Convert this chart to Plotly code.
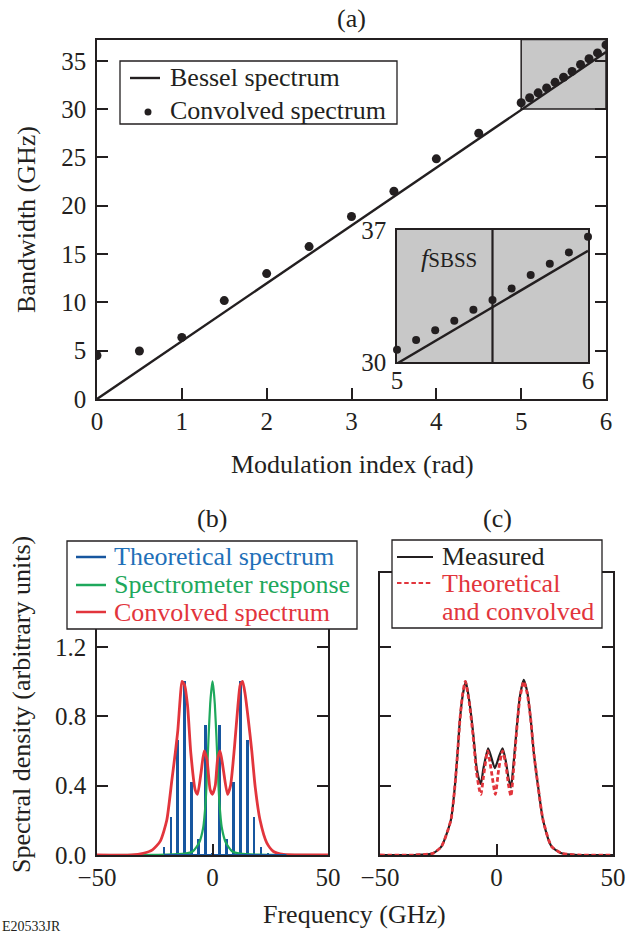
import plotly.graph_objects as go

# ---------------- data ----------------
# Panel (a)
bessel_index = [0.0, 6.0]
bessel_bw = [0.0, 35.9]
mod_index = [0.0, 0.5, 1.0, 1.5, 2.0, 2.5, 3.0, 3.5, 4.0, 4.5,
             5.0, 5.1, 5.2, 5.3, 5.4, 5.5, 5.6, 5.7, 5.8, 5.9, 6.0]
conv_bw = [4.5, 4.97, 6.37, 10.18, 12.98, 15.77, 18.88, 21.5, 24.85, 27.5,
           30.65, 31.17, 31.68, 32.19, 32.77, 33.29, 33.9, 34.61, 35.21, 35.81, 36.64]
f_sbss = 5.5

# Panel (b)
line_freq = [-21, -18, -15, -12, -9, -6, -3, 0, 3, 6, 9, 12, 15, 18, 21, 24]
line_amp = [0.044, 0.22, 0.66, 1.0, 0.42, 0.09, 0.75, 0.01,
            0.75, 0.09, 0.42, 1.0, 0.66, 0.22, 0.048, 0.01]
baseline_freq = [-21, 32]
baseline_amp = [0.0, 0.0]

resp_freq = [-50, -20, -12, -8.6, -5.8, -4, -3, -2.3, -1.7, -1, -0.5, 0,
             0.5, 1, 1.7, 2.3, 3, 4, 5.8, 8.6, 12, 20, 50]
resp_amp = [0, 0.002, 0.008, 0.02, 0.07, 0.16, 0.3, 0.49, 0.68, 0.87, 0.95, 1.0,
            0.95, 0.87, 0.68, 0.49, 0.3, 0.16, 0.07, 0.02, 0.008, 0.002, 0]

conv_freq = [-50, -35, -30, -26, -22.6, -19.8, -17.6, -16.1, -15, -14, -13.2, -12.1,
             -10.8, -9.4, -7.5, -6.5, -5, -3.6, -2.4, -1, 0, 1.2, 2.2, 3.3, 4.6,
             6.5, 7.8, 9.5, 11, 12, 13, 14.1, 15.5, 17, 18.5, 20.6, 23.5, 26.4, 30.7, 40, 50]
conv_amp = [0, 0.0, 0.01, 0.03, 0.08, 0.2, 0.43, 0.59, 0.72, 0.9, 1.0, 0.98,
            0.86, 0.59, 0.375, 0.35, 0.47, 0.6, 0.55, 0.375, 0.35, 0.4, 0.55, 0.6, 0.5,
            0.35, 0.4, 0.62, 0.86, 0.98, 1.0, 0.93, 0.78, 0.6, 0.39, 0.2, 0.07, 0.02, 0.003, 0, 0]

# Panel (c)
meas_freq = [-50, -35, -27.2, -23.6, -19.6, -17.9, -16.7, -15.7, -14.5, -13.2, -11.7, -10.0,
             -8.6, -7.4, -6.7, -5.6, -3.6, -2.4, -0.7, 0.9, 2.6, 4.0, 5.2, 6.2, 7.2,
             8.6, 10.0, 11.7, 13.2, 14.7, 16.0, 17.9, 20.0, 23.6, 27.9, 35, 50]
meas_amp = [0, 0, 0.01, 0.05, 0.2, 0.39, 0.59, 0.78, 0.92, 1.0, 0.89, 0.7,
            0.51, 0.43, 0.41, 0.5, 0.615, 0.57, 0.5, 0.56, 0.615, 0.54, 0.44, 0.39, 0.51,
            0.72, 0.91, 1.01, 0.94, 0.78, 0.59, 0.39, 0.2, 0.05, 0.01, 0, 0]
theo_freq = [-50, -35, -27.2, -23.6, -19.6, -17.9, -16.7, -15.7, -14.5, -13.4, -11.7, -10.0,
             -8.6, -7.4, -6.7, -5.6, -3.8, -2.4, -0.5, 1.0, 2.6, 4.0, 5.2, 6.2, 7.2,
             8.6, 10.0, 11.7, 13.2, 14.7, 16.0, 17.9, 20.0, 23.6, 27.9, 35, 50]
theo_amp = [0, 0, 0.01, 0.05, 0.2, 0.39, 0.59, 0.78, 0.93, 1.0, 0.88, 0.68,
            0.48, 0.38, 0.35, 0.45, 0.6, 0.5, 0.35, 0.5, 0.6, 0.52, 0.4, 0.34, 0.47,
            0.71, 0.9, 1.0, 0.93, 0.78, 0.59, 0.39, 0.2, 0.05, 0.01, 0, 0]

# tick labels
a_xticks = [0, 1, 2, 3, 4, 5, 6]
a_yticks = [0, 5, 10, 15, 20, 25, 30, 35]
inset_xticks = [5, 6]
inset_yticks = [30, 37]
bc_xticks = [-50, 0, 50]
bc_yticks = [0.0, 0.4, 0.8, 1.2]

# ---------------- styling helpers ----------------
W, H = 629, 936
FONT = "Liberation Serif"
INK = "#231f20"
BLUE = "#17569f"
BLUE_TXT = "#1f70b8"
GREEN = "#1ea85c"
RED = "#e2353c"
GRAY = "#c8c8c8"


def px(x):
    return x / W


def py(y):
    return 1 - y / H


def axis(domain, rng, tickvals, mirror=True, **kw):
    d = dict(domain=domain, range=rng, tickvals=tickvals, showline=True,
             linecolor=INK, linewidth=1.5, mirror=mirror, ticks="inside",
             ticklen=11, tickwidth=1.5, tickcolor=INK, showgrid=False,
             zeroline=False, automargin=False,
             tickfont=dict(family=FONT, size=25, color=INK))
    d.update(kw)
    return d


fig = go.Figure()

# ---- panel (a)
fig.add_trace(go.Scatter(x=bessel_index, y=bessel_bw, mode="lines",
                         line=dict(color=INK, width=2.4), xaxis="x", yaxis="y",
                         showlegend=False))
fig.add_trace(go.Scatter(x=mod_index, y=conv_bw, mode="markers",
                         marker=dict(color=INK, size=9), xaxis="x", yaxis="y",
                         showlegend=False))
# inset
fig.add_trace(go.Scatter(x=bessel_index, y=bessel_bw, mode="lines",
                         line=dict(color=INK, width=2.4), xaxis="x2", yaxis="y2",
                         showlegend=False, cliponaxis=True))
fig.add_trace(go.Scatter(x=mod_index, y=conv_bw, mode="markers",
                         marker=dict(color=INK, size=8), xaxis="x2", yaxis="y2",
                         showlegend=False, cliponaxis=False))

# ---- panel (b)
fig.add_trace(go.Scatter(x=resp_freq, y=resp_amp, mode="lines",
                         line=dict(color=GREEN, width=2.2, shape="spline", smoothing=0.6),
                         xaxis="x3", yaxis="y3", showlegend=False))
fig.add_trace(go.Bar(x=line_freq, y=line_amp, width=1.2, marker=dict(color=BLUE, line=dict(width=0)),
                     xaxis="x3", yaxis="y3", showlegend=False))
fig.add_trace(go.Scatter(x=conv_freq, y=conv_amp, mode="lines",
                         line=dict(color=RED, width=2.8, shape="spline", smoothing=0.6),
                         xaxis="x3", yaxis="y3", showlegend=False))
fig.add_trace(go.Scatter(x=baseline_freq, y=baseline_amp, mode="lines",
                         line=dict(color=BLUE, width=2), xaxis="x3", yaxis="y3",
                         showlegend=False))

# ---- panel (c)
fig.add_trace(go.Scatter(x=meas_freq, y=meas_amp, mode="lines",
                         line=dict(color=INK, width=2.2, shape="spline", smoothing=0.6),
                         xaxis="x4", yaxis="y4", showlegend=False))
fig.add_trace(go.Scatter(x=theo_freq, y=theo_amp, mode="lines",
                         line=dict(color=RED, width=2.8, dash="4.5px,2.7px",
                                   shape="spline", smoothing=0.6),
                         xaxis="x4", yaxis="y4", showlegend=False))

shapes = []
# gray box in (a)
shapes.append(dict(type="rect", xref="x", yref="y", x0=5, x1=6, y0=30, y1=37.2,
                   fillcolor=GRAY, line=dict(color=INK, width=1.5), layer="below"))
# inset background
shapes.append(dict(type="rect", xref="x2 domain", yref="y2 domain", x0=0, x1=1, y0=0, y1=1,
                   fillcolor=GRAY, line=dict(width=0), layer="below"))
# f_SBSS marker line
shapes.append(dict(type="line", xref="x2", yref="y2 domain", x0=f_sbss, x1=f_sbss, y0=0, y1=1,
                   line=dict(color=INK, width=2.2)))

annotations = []


def text(s, x, y, size=26, color=INK, xanchor="center", yanchor="middle", angle=0):
    annotations.append(dict(text=s, x=px(x), y=py(y), xref="paper", yref="paper",
                            xanchor=xanchor, yanchor=yanchor, showarrow=False,
                            textangle=angle, font=dict(family=FONT, size=size, color=color)))


# legend (a)
shapes.append(dict(type="rect", xref="paper", yref="paper", x0=px(120), x1=px(397),
                   y0=py(124), y1=py(61), fillcolor="white", line=dict(color=INK, width=1.3)))
shapes.append(dict(type="line", xref="paper", yref="paper", x0=px(130), x1=px(160),
                   y0=py(78), y1=py(78), line=dict(color=INK, width=2.4)))
shapes.append(dict(type="circle", xref="paper", yref="paper", x0=px(144.5), x1=px(151.5),
                   y0=py(115.5), y1=py(108.5), fillcolor=INK, line=dict(width=0)))
text("Bessel spectrum", 168, 77, xanchor="left")
text("Convolved spectrum", 168, 110, xanchor="left")

# legend (b)
shapes.append(dict(type="rect", xref="paper", yref="paper", x0=px(67), x1=px(357),
                   y0=py(629), y1=py(541), fillcolor="white", line=dict(color=INK, width=1.3)))
for yy, cc in [(557, BLUE), (585, GREEN), (612, RED)]:
    shapes.append(dict(type="line", xref="paper", yref="paper", x0=px(76), x1=px(106),
                       y0=py(yy), y1=py(yy), line=dict(color=cc, width=2.5)))
text("Theoretical spectrum", 112, 556, color=BLUE_TXT, xanchor="left")
text("Spectrometer response", 112, 584, color=GREEN, xanchor="left")
text("Convolved spectrum", 112, 612, color=RED, xanchor="left")

# legend (c)
shapes.append(dict(type="rect", xref="paper", yref="paper", x0=px(392), x1=px(602),
                   y0=py(628), y1=py(540), fillcolor="white", line=dict(color=INK, width=1.3)))
shapes.append(dict(type="line", xref="paper", yref="paper", x0=px(397), x1=px(433),
                   y0=py(557), y1=py(557), line=dict(color=INK, width=2.2)))
shapes.append(dict(type="line", xref="paper", yref="paper", x0=px(397), x1=px(433),
                   y0=py(583), y1=py(583), line=dict(color=RED, width=2.2, dash="4.5px,2.7px")))
text("Measured", 440, 556, xanchor="left")
text("Theoretical", 440, 583, color=RED, xanchor="left")
text("and convolved", 440, 611, color=RED, xanchor="left")

# titles and axis labels
text("(a)", 351, 18)
text("(b)", 212, 518)
text("(c)", 497, 518)
text("Bandwidth (GHz)", 26, 220, angle=-90)
text("Modulation index (rad)", 352, 464)
text("Spectral density (arbitrary units)", 21, 705, angle=-90)
text("Frequency (GHz)", 354, 914)
text("<i>f</i><span style='font-size:21px'>SBSS</span>", 419, 258, xanchor="left")
text("E20533JR", 0, 936, size=14, xanchor="left", yanchor="bottom")

fig.update_layout(
    width=W, height=H, margin=dict(l=0, r=0, t=0, b=0, autoexpand=False),
    paper_bgcolor="white", plot_bgcolor="rgba(0,0,0,0)",
    showlegend=False, bargap=0,
    font=dict(family=FONT, size=25, color=INK),
    xaxis=axis([px(97), px(606)], [0, 6], a_xticks, mirror=True, ticklabelstandoff=-1),
    yaxis=axis([py(399), py(39.5)], [0, 37.2], a_yticks, mirror="ticks", ticklabelstandoff=4),
    xaxis2=axis([px(397), px(588)], [5, 6], inset_xticks, mirror=True, ticks="",
                anchor="y2", ticklabelstandoff=-5),
    yaxis2=axis([py(362), py(230)], [30, 37], inset_yticks, mirror=True, ticks="",
                anchor="x2", ticklabelstandoff=4),
    xaxis3=axis([px(97), px(328)], [-50, 50], bc_xticks, mirror="ticks", anchor="y3",
                ticklabelstandoff=-1),
    yaxis3=axis([py(855), py(573)], [0, 1.625], bc_yticks, mirror="ticks", anchor="x3",
                tickformat=".1f", ticklabelstandoff=4),
    xaxis4=axis([px(380), px(613)], [-50, 50], bc_xticks, mirror="ticks", anchor="y4",
                ticklabelstandoff=-1),
    yaxis4=axis([py(855), py(573)], [0, 1.625], bc_yticks, mirror="ticks", anchor="x4",
                showticklabels=False),
    shapes=shapes,
    annotations=annotations,
)

fig.write_html("out.html")
